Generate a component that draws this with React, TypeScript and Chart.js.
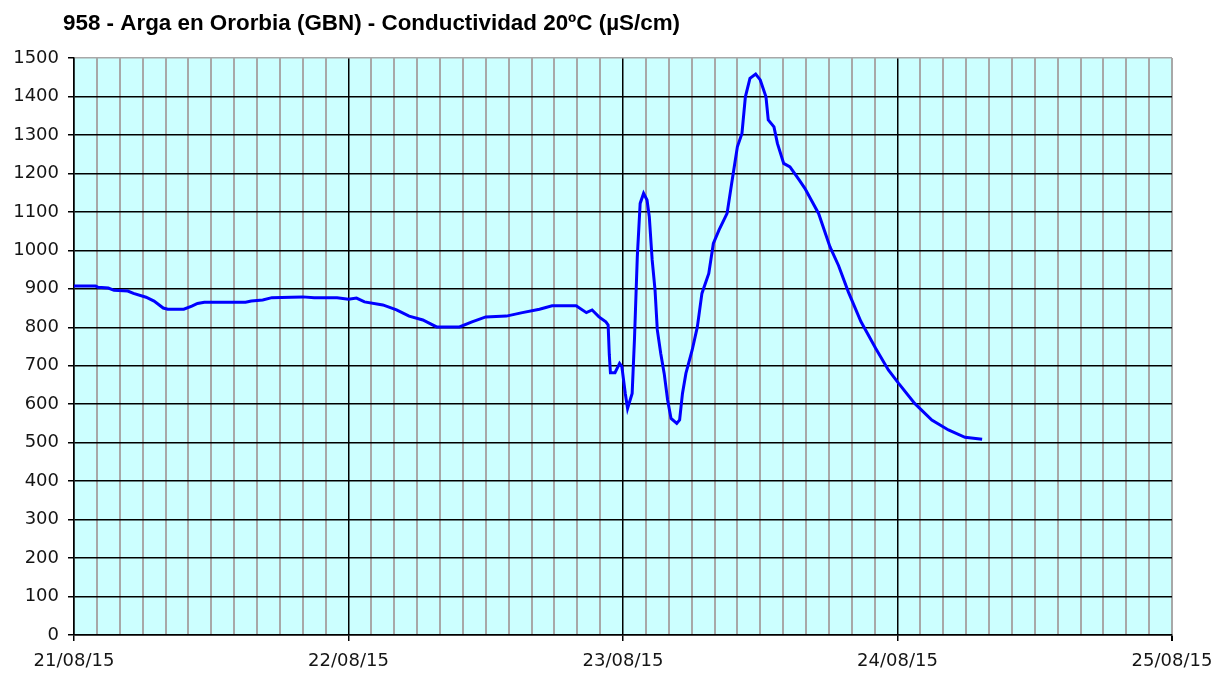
import React, { useEffect, useRef } from 'react';
import { Chart, registerables } from 'chart.js';

Chart.register(...registerables);

const titleText = '958 - Arga en Ororbia (GBN) - Conductividad 20ºC (µS/cm)';
const dateLabels = ['21/08/15', '22/08/15', '23/08/15', '24/08/15', '25/08/15'];

// hours elapsed since 21/08/15 00:00
const hours = [
  0, 1.9, 2.1, 3.0, 3.5, 4.7, 5.2, 6.3, 7.0, 7.8, 8.2, 9.6, 10.3, 10.8, 11.4, 15.0, 15.5, 16.5, 17.3, 19.0,
  20.0, 21.0, 23.0, 24.0, 24.7, 25.4, 27.0, 28.2, 29.3, 30.5, 31.7, 33.7, 34.8, 36.0, 37.8, 39.2, 40.7, 41.8,
  43.9, 44.8, 45.3, 45.9, 46.5, 46.7, 46.8, 46.9, 47.3, 47.7, 47.9, 48.2, 48.4, 48.8, 49.0, 49.25, 49.5, 49.8,
  50.1, 50.3, 50.55, 50.8, 51.0, 51.3, 51.6, 51.9, 52.2, 52.7, 52.95, 53.2, 53.5, 54.05, 54.5, 54.9, 55.5,
  55.9, 56.4, 57.1, 57.5, 58.0, 58.4, 58.7, 59.1, 59.6, 60.0, 60.5, 60.7, 61.2, 61.5, 62.05, 62.6, 63.4, 63.9,
  65.1, 66.1, 66.85, 67.7, 68.8, 70.1, 71.2, 72.1, 73.5, 75.0, 76.45, 77.9, 79.4,
];

// conductivity 20ºC (µS/cm)
const conductivity = [
  907, 907, 904, 902, 896, 894, 888, 878, 868, 850, 847, 847, 855, 862, 865, 865, 868, 871, 877, 878,
  879, 877, 877, 873, 876, 866, 858, 845, 829, 819, 801, 801, 814, 827, 829, 838, 847, 856,
  856, 838, 845, 827, 814, 806, 730, 682, 682, 706, 698, 628, 589, 628, 767, 983, 1122, 1148,
  1131, 1087, 975, 897, 793, 732, 680, 611, 563, 550, 559, 628, 680, 741, 801, 888, 940,
  1018, 1053, 1096, 1174, 1269, 1304, 1399, 1447, 1458, 1443, 1399, 1339, 1321, 1278, 1226, 1217, 1183, 1161,
  1096, 1009, 960, 892, 815, 745, 689, 654, 602, 559, 533, 514, 509,
];

const yMin = 0;
const yMax = 1500;
const yStep = 100;
const xMin = 0;
const xMax = 96;
const xStep = 2;
const hoursPerDay = 24;

export default function App() {
  const ref = useRef<HTMLCanvasElement | null>(null);

  useEffect(() => {
    if (!ref.current) return;
    const bgPlugin = {
      id: 'plotBg',
      beforeDraw(chart: any) {
        const { ctx, chartArea } = chart;
        ctx.save();
        ctx.fillStyle = '#ccffff';
        ctx.fillRect(chartArea.left, chartArea.top, chartArea.right - chartArea.left, chartArea.bottom - chartArea.top);
        ctx.restore();
      },
    };
    const titlePlugin = {
      id: 'fixedTitle',
      afterDraw(chart: any) {
        const { ctx } = chart;
        ctx.save();
        ctx.font = 'bold 22.4px "Liberation Sans", Arial, sans-serif';
        ctx.fillStyle = '#000000';
        ctx.textAlign = 'left';
        ctx.textBaseline = 'alphabetic';
        ctx.fillText(titleText, 63, 30);
        ctx.restore();
      },
    };
    const tickFont = { family: '"DejaVu Sans", Verdana, sans-serif', size: 18 };
    const chart = new Chart(ref.current, {
      type: 'line',
      data: {
        datasets: [
          {
            data: hours.map((h, i) => ({ x: h, y: conductivity[i] })),
            borderColor: '#0000ff',
            borderWidth: 3,
            pointRadius: 0,
            tension: 0,
            fill: false,
          },
        ],
      },
      options: {
        animation: false,
        responsive: false,
        layout: { padding: { top: 58, right: 60, left: 0, bottom: 0 } },
        plugins: {
          legend: { display: false },
          tooltip: { enabled: false },
          title: { display: false },
        },
        scales: {
          x: {
            type: 'linear',
            min: xMin,
            max: xMax,
            afterFit: (s: any) => {
              s.height = 40;
            },
            ticks: {
              stepSize: xStep,
              autoSkip: false,
              maxRotation: 0,
              minRotation: 0,
              padding: 10,
              color: '#151515',
              font: tickFont,
              callback: (v: any) => (Number(v) % hoursPerDay === 0 ? dateLabels[Number(v) / hoursPerDay] : ''),
            },
            grid: {
              lineWidth: (c: any) => {
                const v = c.tick ? c.tick.value : 0;
                return v % hoursPerDay === 0 && v !== xMax ? 1.5 : 2;
              },
              color: (c: any) => {
                const v = c.tick ? c.tick.value : 0;
                return v % hoursPerDay === 0 && v !== xMax ? '#000000' : '#a8a8a8';
              },
              tickLength: 6,
              tickColor: (c: any) => {
                const v = c.tick ? c.tick.value : 0;
                return v % hoursPerDay === 0 ? '#000000' : 'rgba(0,0,0,0)';
              },
            },
            border: { color: '#000000', width: 1.5 },
          },
          y: {
            type: 'linear',
            min: yMin,
            max: yMax,
            afterFit: (s: any) => {
              s.width = 74;
            },
            ticks: {
              stepSize: yStep,
              padding: 9,
              color: '#151515',
              font: tickFont,
              callback: (v: any) => String(v),
            },
            grid: {
              lineWidth: 1.5,
              color: (c: any) => {
                const v = c.tick ? c.tick.value : 0;
                return v === yMax ? '#a8a8a8' : '#000000';
              },
              tickLength: 6,
              tickColor: '#000000',
            },
            border: { color: '#000000', width: 1.5 },
          },
        },
      },
      plugins: [bgPlugin, titlePlugin],
    } as any);
    return () => chart.destroy();
  }, []);

  return (
    <div style={{ position: 'fixed', left: 0, top: 0, width: 1232, height: 675, background: '#ffffff' }}>
      <canvas ref={ref} width={1232} height={675} />
    </div>
  );
}
